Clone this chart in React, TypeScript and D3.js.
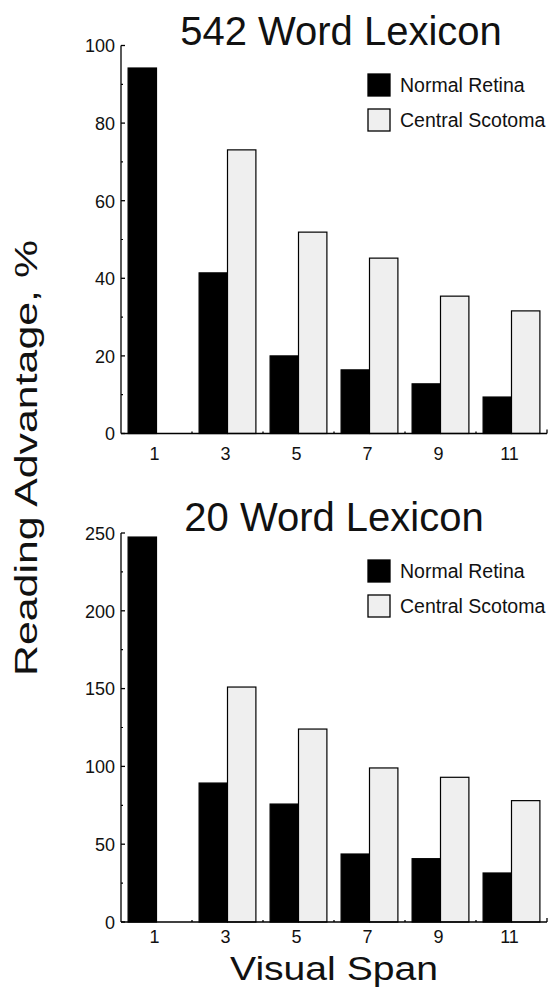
import React from "react";
import * as d3 from "d3";

const spans = ["1", "3", "5", "7", "9", "11"];
const seriesNames = ["Normal Retina", "Central Scotoma"];
const normal542 = [94.2, 41.4, 20, 16.4, 12.8, 9.4];
const scotoma542 = [null, 73.1, 51.9, 45.2, 35.4, 31.6];
const normal20 = [247.4, 89.3, 75.8, 43.7, 40.7, 31.5];
const scotoma20 = [null, 151, 124, 99, 93, 78];
const ticks542 = [0, 20, 40, 60, 80, 100];
const ticks20 = [0, 50, 100, 150, 200, 250];

const FONT = "'Liberation Sans', Arial, Helvetica, sans-serif";
const SCOTOMA_FILL = "#efefef";

type PanelProps = {
  title: string;
  titleX: number;
  titleY: number;
  normal: (number | null)[];
  scotoma: (number | null)[];
  ticks: number[];
  yTop: number;
  yBottom: number;
  legendY: number;
  labelY: number;
};

function Panel(p: PanelProps) {
  const x = d3
    .scaleBand<string>()
    .domain(spans)
    .range([121, 547])
    .paddingInner(0.2)
    .paddingOuter(0.1);
  const inner = d3
    .scaleBand<string>()
    .domain(seriesNames)
    .range([0, x.bandwidth()]);
  const max = p.ticks[p.ticks.length - 1];
  const y = d3.scaleLinear().domain([0, max]).range([p.yBottom, p.yTop]);
  const step = p.ticks[1] - p.ticks[0];
  const minor = d3.range(step / 2, max, step);
  const boundaries = spans.map((s) => (x(s) as number) + x.bandwidth() + x.step() * 0.1);

  const bars: React.ReactNode[] = [];
  spans.forEach((s, i) => {
    const vals = [p.normal[i], p.scotoma[i]];
    vals.forEach((v, j) => {
      if (v == null) return;
      const name = seriesNames[j];
      bars.push(
        <rect
          key={s + name}
          x={(x(s) as number) + (inner(name) as number)}
          y={y(v)}
          width={inner.bandwidth()}
          height={y(0) - y(v)}
          fill={j === 0 ? "#000" : SCOTOMA_FILL}
          stroke="#000"
          strokeWidth={1.2}
        />
      );
    });
  });

  return (
    <g>
      <text
        x={p.titleX}
        y={p.titleY}
        textAnchor="middle"
        fontSize={40}
        fontFamily={FONT}
        fill="#111"
      >
        {p.title}
      </text>
      {bars}
      {/* y axis */}
      <line x1={121} x2={121} y1={p.yTop} y2={p.yBottom} stroke="#000" strokeWidth={1.3} />
      {p.ticks.map((t) => (
        <g key={"t" + t}>
          <line x1={121} x2={125} y1={y(t)} y2={y(t)} stroke="#000" strokeWidth={1.3} />
          <text
            x={115}
            y={y(t)}
            dy="0.38em"
            textAnchor="end"
            fontSize={18}
            fontFamily={FONT}
            fill="#111"
          >
            {t}
          </text>
        </g>
      ))}
      {minor.map((t) => (
        <line key={"m" + t} x1={121} x2={123} y1={y(t)} y2={y(t)} stroke="#000" strokeWidth={1.2} />
      ))}
      {/* x axis */}
      <line x1={121} x2={547} y1={p.yBottom} y2={p.yBottom} stroke="#000" strokeWidth={1.3} />
      {boundaries.map((bx, i) => (
        <line
          key={"b" + i}
          x1={bx}
          x2={bx}
          y1={p.yBottom}
          y2={p.yBottom - (i === boundaries.length - 1 ? 4 : 2)}
          stroke="#000"
          strokeWidth={1.3}
        />
      ))}
      {spans.map((s) => (
        <text
          key={"x" + s}
          x={(x(s) as number) + x.bandwidth() / 2 - 2}
          y={p.labelY}
          textAnchor="middle"
          fontSize={18}
          fontFamily={FONT}
          fill="#111"
        >
          {s}
        </text>
      ))}
      {/* legend */}
      {seriesNames.map((name, j) => (
        <g key={"l" + name} transform={`translate(368, ${p.legendY + j * 35})`}>
          <rect
            x={0}
            y={0}
            width={22}
            height={22}
            fill={j === 0 ? "#000" : SCOTOMA_FILL}
            stroke="#000"
            strokeWidth={1.3}
          />
          <text x={32} y={11} dy="0.36em" fontSize={19.5} fontFamily={FONT} fill="#111">
            {name}
          </text>
        </g>
      ))}
    </g>
  );
}

export default function App() {
  return (
    <svg
      width={549}
      height={988}
      style={{ position: "absolute", left: 0, top: 0, background: "#fff" }}
    >
      <rect x={0} y={0} width={549} height={988} fill="#fff" />
      <Panel
        title="542 Word Lexicon"
        titleX={341}
        titleY={45}
        normal={normal542}
        scotoma={scotoma542}
        ticks={ticks542}
        yTop={45.5}
        yBottom={433.5}
        legendY={74}
        labelY={460}
      />
      <Panel
        title="20 Word Lexicon"
        titleX={334}
        titleY={531}
        normal={normal20}
        scotoma={scotoma20}
        ticks={ticks20}
        yTop={533}
        yBottom={922}
        legendY={560}
        labelY={943}
      />
      <text
        transform="translate(37, 458) rotate(-90)"
        textAnchor="middle"
        fontSize={32}
        textLength={436}
        lengthAdjust="spacingAndGlyphs"
        fontFamily={FONT}
        fill="#111"
      >
        Reading Advantage, %
      </text>
      <text
        x={334}
        y={980}
        textAnchor="middle"
        fontSize={34}
        textLength={208}
        lengthAdjust="spacingAndGlyphs"
        fontFamily={FONT}
        fill="#111"
      >
        Visual Span
      </text>
    </svg>
  );
}
